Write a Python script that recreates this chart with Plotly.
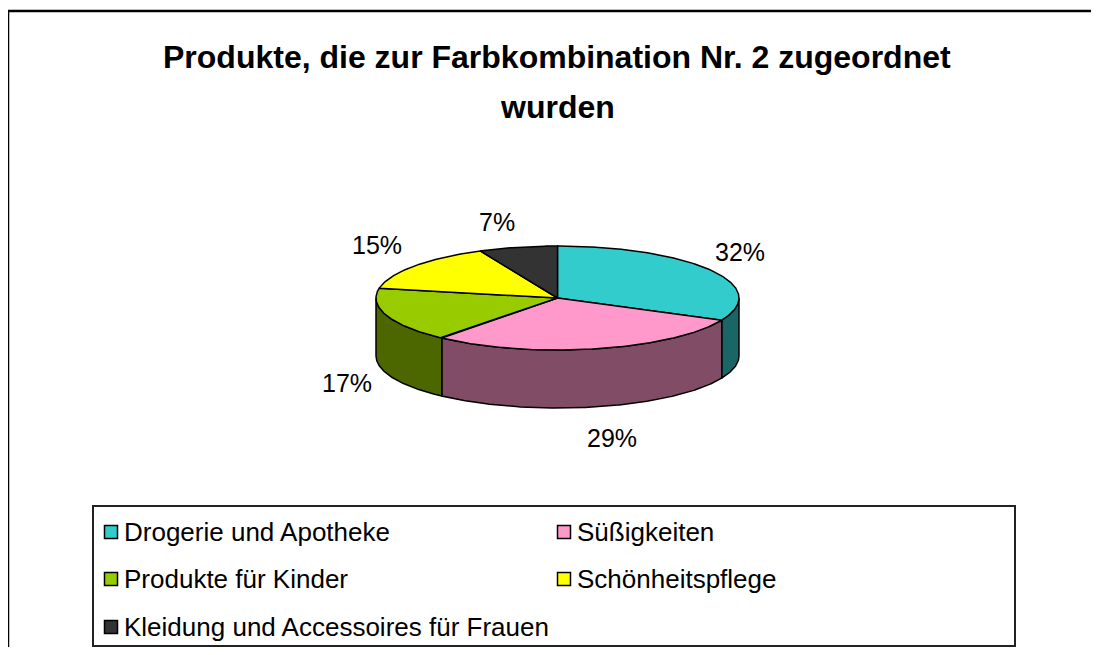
import numpy as np
import plotly.graph_objects as go

# ---- data ----
categories = ["Drogerie und Apotheke", "Süßigkeiten", "Produkte für Kinder",
              "Schönheitspflege", "Kleidung und Accessoires für Frauen"]
values = [32, 29, 17, 15, 7]
pct_labels = ["32%", "29%", "17%", "15%", "7%"]
title_lines = ["Produkte, die zur Farbkombination Nr. 2 zugeordnet", "wurden"]

# ---- styles / layout (pixel space of the 1099x655 page) ----
top_colors = ["#33CCCC", "#FF99CC", "#99CC00", "#FFFF00", "#333333"]
side_colors = ["#1A6666", "#804C66", "#4C6600", "#808000", "#1A1A1A"]
OFF = 8  # page body margin
W, H = 1099 - 2 * OFF, 655 - 2 * OFF  # fit page without scrollbars
cx, cy, rx, ry, depth = 557.5, 298.0, 181.5, 52.0, 58.0
label_pos = [(740, 252), (612, 438), (347, 383), (377, 245), (497, 222)]
FONT = "Arial, Liberation Sans, sans-serif"

total = float(sum(values))
bounds = np.concatenate([[0.0], np.cumsum(values) / total * 360.0])


def arc(a, b, off=0.0, n_per_deg=2):
    n = max(int(abs(b - a) * n_per_deg), 2)
    t = np.radians(np.linspace(a, b, n))
    return cx + rx * np.sin(t), cy - ry * np.cos(t) + off


fig = go.Figure()

# side walls (visible front half: 90..270 deg clockwise from top)
for i in range(len(values)):
    a, b = max(bounds[i], 90.0), min(bounds[i + 1], 270.0)
    if b <= a:
        continue
    x1, y1 = arc(a, b, 0)
    x2, y2 = arc(b, a, depth)
    xs = np.concatenate([x1, x2, x1[:1]])
    ys = np.concatenate([y1, y2, y1[:1]])
    fig.add_trace(go.Scatter(x=xs, y=ys, mode="lines", fill="toself",
                             fillcolor=side_colors[i],
                             line=dict(color="black", width=1.5),
                             hoverinfo="skip", showlegend=False))

# top faces
for i in range(len(values)):
    xa, ya = arc(bounds[i], bounds[i + 1], 0)
    xs = np.concatenate([[cx], xa, [cx]])
    ys = np.concatenate([[cy], ya, [cy]])
    fig.add_trace(go.Scatter(x=xs, y=ys, mode="lines", fill="toself",
                             fillcolor=top_colors[i],
                             line=dict(color="black", width=1.5),
                             hoverinfo="skip", showlegend=False,
                             name=categories[i]))

# percentage labels
for (lx, ly), t in zip(label_pos, pct_labels):
    fig.add_annotation(x=lx, y=ly, text=t, showarrow=False,
                       xanchor="center", yanchor="middle",
                       font=dict(family=FONT, size=25, color="black"))

# title
fig.add_annotation(x=557, y=57, text="<b>%s</b>" % title_lines[0], showarrow=False,
                   xanchor="center", yanchor="middle",
                   font=dict(family=FONT, size=32, color="black"))
fig.add_annotation(x=557, y=107, text="<b>%s</b>" % title_lines[1], showarrow=False,
                   xanchor="center", yanchor="middle",
                   font=dict(family=FONT, size=32, color="black"))

# legend (manual, 2 columns)
leg_cols = [111, 564]
leg_rows = [532, 579, 627]
lx_list, ly_list = [], []
for i, name in enumerate(categories):
    c = leg_cols[i % 2]
    r = leg_rows[i // 2]
    lx_list.append(c)
    ly_list.append(r)
    fig.add_annotation(x=c + 11, y=r, text=name, showarrow=False,
                       xanchor="left", yanchor="middle",
                       font=dict(family=FONT, size=26, color="black"))
fig.add_trace(go.Scatter(x=lx_list, y=ly_list, mode="markers",
                         marker=dict(symbol="square", size=13, color=top_colors,
                                     line=dict(color="black", width=1.5)),
                         hoverinfo="skip", showlegend=False))

# frames
fig.add_shape(type="rect", x0=8, y0=11, x1=1130, y1=690,
              line=dict(color="black", width=2.5), layer="below")
fig.add_shape(type="rect", x0=93, y0=506, x1=1015, y1=646,
              line=dict(color="#222222", width=2), layer="below")

fig.update_layout(
    width=W, height=H, margin=dict(l=0, r=0, t=0, b=0),
    paper_bgcolor="white", plot_bgcolor="white",
    xaxis=dict(range=[OFF, W + OFF], visible=False, fixedrange=True),
    yaxis=dict(range=[H + OFF, OFF], visible=False, fixedrange=True),
    showlegend=False,
)

fig.write_html("out.html")
